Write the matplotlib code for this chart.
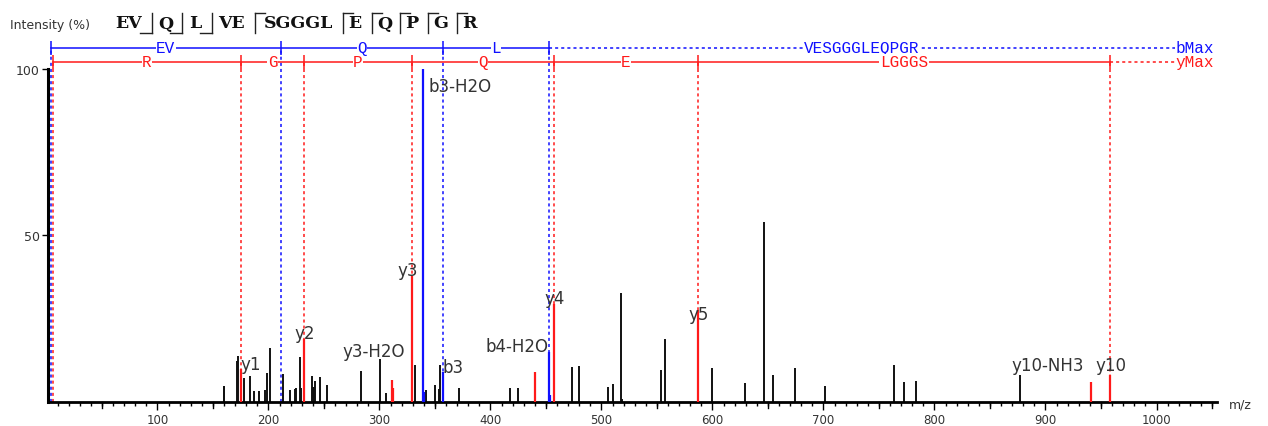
"""Annotated MS/MS spectrum for EVQLVESGGGLEQPGR."""
import matplotlib
matplotlib.use("Agg")
import matplotlib.pyplot as plt
from matplotlib.lines import Line2D

# ---- data -------------------------------------------------------------
black_mz = [159.6, 160.4, 171.5, 172.7, 178.1, 183.3, 187.1, 191.9, 197.3,
            198.5, 201.5, 213.5, 219.5, 223.7, 225.0, 228.4, 229.6, 239.3,
            240.2, 240.8, 242.0, 246.6, 252.6, 283.6, 300.5, 305.6, 332.3,
            342.0, 349.8, 353.4, 354.7, 371.3, 417.6, 425.1, 473.0, 480.0,
            506.0, 510.4, 517.7, 518.8, 553.4, 557.0, 599.5, 629.5, 646.6,
            654.3, 674.5, 701.5, 763.3, 772.3, 783.1, 876.8]
black_int = [4.9, 4.9, 12.4, 13.9, 7.1, 7.9, 3.2, 3.2, 3.7,
             8.7, 16.3, 8.3, 3.7, 4.0, 4.2, 13.6, 4.2, 7.9,
             4.4, 4.4, 6.4, 7.5, 5.0, 9.2, 12.9, 2.7, 11.1,
             3.6, 5.0, 3.8, 11.1, 4.2, 4.2, 4.2, 10.4, 10.9,
             4.4, 5.4, 32.6, 1.0, 9.6, 18.9, 10.2, 5.7, 53.9,
             8.0, 10.2, 4.7, 11.0, 6.0, 6.4, 8.0]

y_mz = [175.1, 232.1, 311.2, 312.6, 329.2, 440.2, 457.2, 586.8, 941.0, 958.2]
y_int = [9.9, 18.9, 6.7, 4.2, 37.9, 8.9, 29.4, 27.7, 5.9, 8.0]

b_mz = [339.2, 340.5, 357.4, 452.5, 453.4]
b_int = [100.0, 3.0, 8.9, 14.9, 2.0]

# labelled ions: (name, m/z of the peak it belongs to)
ion_names = ["y1", "y2", "y3-H2O", "y3", "b3-H2O", "b3", "b4-H2O", "y4",
             "y5", "y10-NH3", "y10"]
ion_mz = [175.1, 232.1, 311.2, 329.2, 339.2, 357.4, 452.5, 457.2,
          586.8, 941.0, 958.2]

# fragment ladders
b_breaks = [3.7, 211.1, 357.4, 452.5]
b_steps = ["EV", "Q", "L"]
b_rest = "VESGGGLEQPGR"
y_breaks = [5.9, 175.1, 232.1, 329.2, 457.2, 586.8, 958.2]
y_steps = ["R", "G", "P", "Q", "E", "LGGGS"]
ladder_end = 1017.0

# peptide header pieces
seq_parts = ["EV", "Q", "L", "VE", "SGGGL", "E", "Q", "P", "G", "R"]

# ---- layout ------------------------------------------------------------
W, H = 1268, 427
BLUE = "#1010ff"
RED = "#ff1a1a"
GREY = "#333333"

fig = plt.figure(figsize=(W / 100, H / 100), dpi=100)
ax = fig.add_axes([48 / W, (H - 403) / H, (1217 - 48) / W, 373 / H])
ax.set_xlim(1.4, 1054.5)
ax.set_ylim(0, 112)

# dotted guide lines of the ladders
y_blue, y_red = 106.3, 102.1
ax.vlines(b_breaks, 0, y_blue, colors=BLUE, lw=1.1, linestyles=(0, (2, 2)),
          zorder=1)
ax.vlines(y_breaks, 0, y_red, colors=RED, lw=1.1, linestyles=(0, (2, 2)),
          zorder=1)

# peaks
ax.vlines(black_mz, 0, black_int, colors="#111111", lw=1.4, zorder=2)
ax.vlines(y_mz, 0, y_int, colors=RED, lw=1.6, zorder=3)
ax.vlines(b_mz, 0, b_int, colors=BLUE, lw=1.6, zorder=3)

# ladder lines
lad_font = dict(family="Liberation Mono", fontsize=11.5, ha="center",
                va="center", zorder=5,
                bbox=dict(facecolor="white", edgecolor="none", pad=0.4))
ax.plot([b_breaks[0], b_breaks[-1]], [y_blue, y_blue], color=BLUE, lw=1.1)
ax.plot([b_breaks[-1], ladder_end], [y_blue, y_blue], color=BLUE, lw=1.1,
        ls=(0, (2, 2)))
ax.vlines(b_breaks, y_blue - 2.2, y_blue + 2.2, colors=BLUE, lw=1.1)
for a, b, s in zip(b_breaks[:-1], b_breaks[1:], b_steps):
    ax.text((a + b) / 2, y_blue, s, color=BLUE, **lad_font)
ax.text((b_breaks[-1] + ladder_end) / 2, y_blue, b_rest, color=BLUE, **lad_font)
ax.text(ladder_end, y_blue, "bMax", color=BLUE, **{**lad_font, "ha": "left"})

ax.plot([y_breaks[0], y_breaks[-1]], [y_red, y_red], color=RED, lw=1.1)
ax.plot([y_breaks[-1], ladder_end], [y_red, y_red], color=RED, lw=1.1,
        ls=(0, (2, 2)))
ax.vlines(y_breaks, y_red - 2.2, y_red + 2.2, colors=RED, lw=1.1)
for a, b, s in zip(y_breaks[:-1], y_breaks[1:], y_steps):
    ax.text((a + b) / 2, y_red, s, color=RED, **lad_font)
ax.text(ladder_end, y_red, "yMax", color=RED, **{**lad_font, "ha": "left"})

# ion labels, offsets in pixels from the peak top
offsets = {"y1": (10, 5), "y2": (1, 6), "y3-H2O": (-18, 29), "y3": (-4, 6),
           "b3-H2O": (37, -17), "b3": (10, 5), "b4-H2O": (-32, 6),
           "y4": (1, 6), "y5": (1, -4), "y10-NH3": (-43, 17), "y10": (1, 10)}
peak_h = dict(zip(black_mz + y_mz + b_mz, black_int + y_int + b_int))
for name, mz in zip(ion_names, ion_mz):
    ax.annotate(name, (mz, peak_h[mz]), xytext=offsets[name],
                textcoords="offset pixels", ha="center", va="center",
                fontsize=12, color=GREY, zorder=6)

# axes styling
for s in ["top", "right"]:
    ax.spines[s].set_visible(False)
ax.spines["left"].set_bounds(0, 100)
ax.spines["left"].set_linewidth(2.2)
ax.spines["bottom"].set_linewidth(2.0)
ax.set_yticks([50, 100])
ax.set_xticks(range(100, 1001, 100))
ax.set_xticks([x for x in range(10, 1051, 10) if x % 100], minor=True)
ax.tick_params(axis="y", length=4, width=1, pad=2, labelsize=9,
               labelcolor=GREY)
ax.tick_params(axis="x", which="major", length=6, width=1, pad=2,
               labelsize=8.5, labelcolor=GREY)
ax.tick_params(axis="x", which="minor", length=3, width=1)
# 50-steps get a longer tick too
for x in range(50, 1051, 100):
    ax.plot([x, x], [0, -1.8], color="black", lw=1, clip_on=False)

fig.text(1240 / W, 1 - 405 / H, "m/z", fontsize=9, color=GREY,
         ha="center", va="center")

# header line: label + bracketed peptide
fig.text(10 / W, 1 - 25 / H, "Intensity (%)", fontsize=9, color=GREY,
         va="center")
seq_x = [115, 158, 189, 218, 264, 348, 377, 405, 433, 462]
for s, x in zip(seq_parts, seq_x):
    fig.text(x / W, 1 - 24 / H, s, family="DejaVu Serif", weight="bold",
             fontsize=12.5, color="#111111", va="center")
# b-type brackets (bottom-left) after EV, Q, L; y-type (top-right) before rest
for xb in [152, 182, 212]:
    fig.add_artist(Line2D([xb / W, xb / W], [1 - 14 / H, 1 - 34 / H],
                          color="#222222", lw=1))
    fig.add_artist(Line2D([(xb - 12) / W, xb / W], [1 - 34 / H, 1 - 34 / H],
                          color="#222222", lw=1))
for xb in [255, 343, 372, 400, 428, 457]:
    fig.add_artist(Line2D([xb / W, xb / W], [1 - 14 / H, 1 - 34 / H],
                          color="#222222", lw=1))
    fig.add_artist(Line2D([xb / W, (xb + 10) / W], [1 - 14 / H, 1 - 14 / H],
                          color="#222222", lw=1))

fig.savefig("out.png", dpi=100)
